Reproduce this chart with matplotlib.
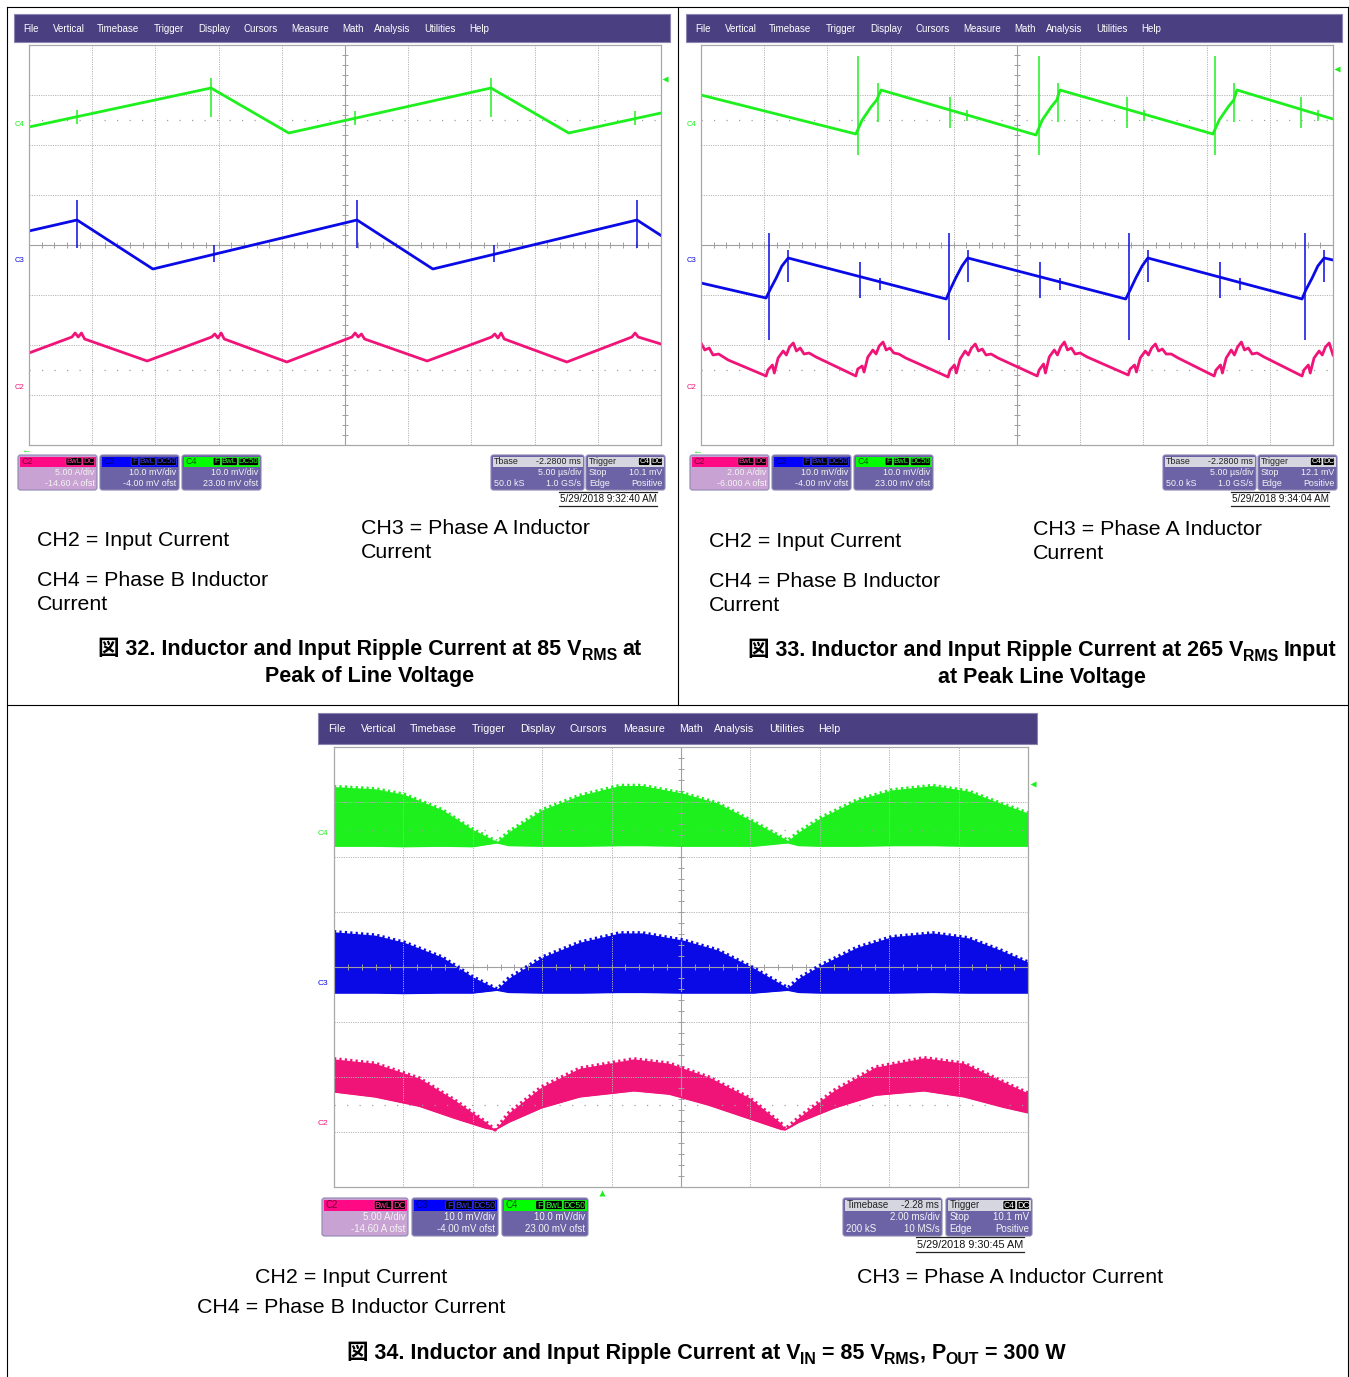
import matplotlib
matplotlib.use("Agg")
import matplotlib.pyplot as plt
from matplotlib.patches import Rectangle, FancyBboxPatch
import numpy as np

FAM = ['Liberation Sans', 'Noto Sans CJK JP', 'DejaVu Sans']
plt.rcParams['font.family'] = FAM

W, H = 1349, 1377

GREEN = '#1ef01e'
BLUE = '#0a0ae6'
PINK = '#f01478'
MENU = '#4a3f80'
GRID = '#b4b4b4'
BODY = '#6b63a6'

menu_items = ['File', 'Vertical', 'Timebase', 'Trigger', 'Display', 'Cursors',
              'Measure', 'Math', 'Analysis', 'Utilities', 'Help']

# ---------------- Fig 32: x, y in screen divisions ----------------
f32_c4_x = [0, 2.88, 4.11, 7.31, 8.54, 10]
f32_c4_y = [2.36, 3.14, 2.24, 3.14, 2.24, 2.64]
f32_c4_spk_x = [0.76, 2.88, 5.16, 7.31, 9.59]
f32_c4_spk_top = [2.70, 3.34, 2.68, 3.34, 2.68]
f32_c4_spk_bot = [2.42, 2.56, 2.40, 2.56, 2.40]

f32_c3_x = [0, 0.76, 1.96, 5.19, 6.39, 9.62, 10]
f32_c3_y = [0.28, 0.5, -0.48, 0.5, -0.48, 0.5, 0.19]
f32_c3_spk_x = [0.76, 2.92, 5.19, 7.35, 9.62]
f32_c3_spk_top = [0.9, 0.0, 0.9, 0.0, 0.9]
f32_c3_spk_bot = [-0.06, -0.34, -0.06, -0.34, -0.06]

f32_c2_x = [0, 0.68, 0.73, 0.78, 0.83, 0.88, 1.87, 2.89, 2.94, 2.99, 3.04, 3.09, 4.08,
            5.11, 5.16, 5.21, 5.26, 5.31, 6.30, 7.32, 7.37, 7.42, 7.47, 7.52, 8.51,
            9.54, 9.59, 9.64, 9.69, 10]
f32_c2_y = [-2.16, -1.84, -1.76, -1.84, -1.76, -1.88, -2.32, -1.84, -1.78, -1.86, -1.76, -1.88, -2.34,
            -1.84, -1.76, -1.84, -1.78, -1.88, -2.32, -1.84, -1.78, -1.86, -1.76, -1.88, -2.34,
            -1.84, -1.76, -1.84, -1.86, -1.98]

# ---------------- Fig 33 ----------------
f33_c4_x = [0, 2.45, 2.55, 2.69, 2.78, 2.85, 5.30, 5.40, 5.54, 5.63, 5.68,
            8.10, 8.20, 8.34, 8.43, 8.48, 10]
f33_c4_y = [3.0, 2.22, 2.5, 2.76, 2.9, 3.1, 2.2, 2.5, 2.76, 2.9, 3.1,
            2.22, 2.5, 2.76, 2.9, 3.1, 2.52]
f33_c4_spk_x = [2.48, 5.35, 8.13, 2.80, 5.65, 8.43, 3.94, 6.74, 9.49, 4.21, 7.01, 9.76]
f33_c4_spk_top = [3.78, 3.78, 3.78, 3.24, 3.24, 3.24, 2.96, 2.96, 2.96, 2.70, 2.70, 2.70]
f33_c4_spk_bot = [1.80, 1.80, 1.80, 2.46, 2.46, 2.46, 2.34, 2.34, 2.34, 2.48, 2.48, 2.48]

f33_c3_x = [0, 1.03, 1.09, 1.19, 1.28, 1.38, 3.88, 3.94, 4.03, 4.13, 4.22,
            6.72, 6.79, 6.88, 6.98, 7.07, 9.51, 9.57, 9.67, 9.76, 9.86, 10]
f33_c3_y = [-0.76, -1.06, -0.9, -0.66, -0.42, -0.26, -1.08, -0.9, -0.66, -0.42, -0.26,
            -1.08, -0.9, -0.66, -0.42, -0.26, -1.08, -0.9, -0.66, -0.42, -0.26, -0.3]
f33_c3_spk_x = [1.08, 3.92, 6.77, 9.56, 1.38, 4.22, 7.07, 9.86, 2.52, 5.36, 8.21, 2.83, 5.68, 8.53]
f33_c3_spk_top = [0.24, 0.24, 0.24, 0.24, -0.1, -0.1, -0.1, -0.1, -0.34, -0.34, -0.34, -0.66, -0.66, -0.66]
f33_c3_spk_bot = [-1.9, -1.9, -1.9, -1.9, -0.74, -0.74, -0.74, -0.74, -1.06, -1.06, -1.06, -0.9, -0.9, -0.9]

f33_c2_x = [0, 0.06, 0.13, 0.19, 0.28, 0.43,
            1.03, 1.06, 1.13, 1.16, 1.22, 1.30, 1.35, 1.40, 1.46, 1.51, 1.57, 1.63, 1.71, 1.82,
            2.45, 2.48, 2.55, 2.58, 2.64, 2.72, 2.77, 2.82, 2.88, 2.93, 2.99, 3.05, 3.13, 3.24,
            3.91, 3.94, 4.01, 4.04, 4.10, 4.18, 4.23, 4.28, 4.34, 4.39, 4.45, 4.51, 4.59, 4.70,
            5.32, 5.35, 5.42, 5.45, 5.51, 5.59, 5.64, 5.69, 5.75, 5.80, 5.86, 5.92, 6.00, 6.11,
            6.76, 6.79, 6.86, 6.89, 6.95, 7.03, 7.08, 7.13, 7.19, 7.24, 7.30, 7.36, 7.44, 7.55,
            8.12, 8.15, 8.22, 8.25, 8.31, 8.39, 8.44, 8.49, 8.55, 8.60, 8.66, 8.72, 8.80, 8.91,
            9.51, 9.54, 9.61, 9.64, 9.70, 9.78, 9.83, 9.88, 9.94, 10.0]
f33_c2_y = [-1.96, -2.1, -2.06, -2.2, -2.18, -2.3,
            -2.62, -2.5, -2.4, -2.56, -2.26, -2.12, -2.2, -2.04, -1.96, -2.12, -2.06, -2.18, -2.16, -2.24,
            -2.62, -2.48, -2.42, -2.54, -2.24, -2.1, -2.18, -2.02, -1.94, -2.1, -2.06, -2.16, -2.18, -2.26,
            -2.64, -2.5, -2.4, -2.56, -2.28, -2.12, -2.2, -2.06, -1.98, -2.12, -2.08, -2.2, -2.18, -2.26,
            -2.62, -2.5, -2.38, -2.56, -2.24, -2.1, -2.2, -2.04, -1.94, -2.1, -2.06, -2.18, -2.16, -2.24,
            -2.6, -2.48, -2.4, -2.54, -2.26, -2.12, -2.2, -2.06, -1.98, -2.12, -2.08, -2.18, -2.18, -2.26,
            -2.62, -2.5, -2.4, -2.56, -2.26, -2.1, -2.2, -2.04, -1.94, -2.1, -2.06, -2.18, -2.16, -2.24,
            -2.62, -2.5, -2.4, -2.56, -2.26, -2.12, -2.2, -2.04, -1.96, -2.2]

# ---------------- Fig 34: envelopes (upper / lower) ----------------
f34_x = [0, 0.59, 1.01, 1.56, 2.0, 2.35, 2.52, 3.0, 3.54, 4.12, 4.44, 5.03,
         5.53, 6.05, 6.54, 6.70, 7.02, 7.54, 8.04, 8.63, 9.14, 9.60, 10]
f34_c4_hi = [3.28, 3.24, 3.14, 2.86, 2.5, 2.28, 2.46, 2.86, 3.12, 3.3, 3.3, 3.16,
             2.98, 2.64, 2.3, 2.46, 2.72, 3.04, 3.22, 3.3, 3.2, 2.98, 2.8]
f34_c4_lo = [2.2, 2.2, 2.19, 2.2, 2.19, 2.26, 2.21, 2.2, 2.2, 2.21, 2.21, 2.2,
             2.2, 2.2, 2.26, 2.21, 2.2, 2.2, 2.21, 2.21, 2.2, 2.2, 2.2]
f34_c3_hi = [0.64, 0.58, 0.45, 0.18, -0.18, -0.4, -0.2, 0.18, 0.45, 0.62, 0.62, 0.49,
             0.31, -0.02, -0.38, -0.2, 0.04, 0.36, 0.55, 0.62, 0.53, 0.31, 0.09]
f34_c3_lo = [-0.47, -0.47, -0.48, -0.47, -0.47, -0.42, -0.46, -0.47, -0.47, -0.46, -0.46, -0.47,
             -0.47, -0.47, -0.42, -0.46, -0.47, -0.47, -0.47, -0.46, -0.47, -0.47, -0.47]
f34_c2_x = [0, 0.59, 1.23, 1.74, 2.19, 2.32, 2.52, 2.99, 3.54, 4.32, 4.83, 5.4,
            5.99, 6.44, 6.50, 6.70, 7.21, 7.80, 8.50, 9.08, 9.65, 10]
f34_c2_hi = [-1.67, -1.75, -2.02, -2.42, -2.82, -2.96, -2.65, -2.18, -1.84, -1.67, -1.75, -2.0,
             -2.38, -2.84, -2.95, -2.73, -2.24, -1.82, -1.65, -1.75, -2.09, -2.29]
f34_c2_lo = [-2.27, -2.36, -2.53, -2.75, -2.93, -2.96, -2.82, -2.56, -2.36, -2.25, -2.31, -2.51,
             -2.76, -2.95, -2.96, -2.82, -2.56, -2.33, -2.25, -2.36, -2.55, -2.65]

# scope settings
f32_chan = [('5.00 A/div', '-14.60 A ofst'), ('10.0 mV/div', '-4.00 mV ofst'), ('10.0 mV/div', '23.00 mV ofst')]
f33_chan = [('2.00 A/div', '-6.000 A ofst'), ('10.0 mV/div', '-4.00 mV ofst'), ('10.0 mV/div', '23.00 mV ofst')]
f34_chan = [('5.00 A/div', '-14.60 A ofst'), ('10.0 mV/div', '-4.00 mV ofst'), ('10.0 mV/div', '23.00 mV ofst')]
f32_tb = ('Tbase', '-2.2800 ms', '5.00 µs/div', '50.0 kS', '1.0 GS/s')
f33_tb = ('Tbase', '-2.2800 ms', '5.00 µs/div', '50.0 kS', '1.0 GS/s')
f34_tb = ('Timebase', '-2.28 ms', '2.00 ms/div', '200 kS', '10 MS/s')
f32_trig, f33_trig, f34_trig = '10.1 mV', '12.1 mV', '10.1 mV'
f32_date, f33_date, f34_date = '5/29/2018 9:32:40 AM', '5/29/2018 9:34:04 AM', '5/29/2018 9:30:45 AM'

fig = plt.figure(figsize=(W / 100, H / 100), dpi=100)
page = fig.add_axes([0, 0, 1, 1])
page.set_xlim(0, W)
page.set_ylim(H, 0)
page.axis('off')

# document frame
page.plot([7, 7], [7, H], color='black', lw=0.8)
page.plot([7, W - 1], [7, 7], color='black', lw=0.8)
page.plot([W - 1.5, W - 1.5], [7, H], color='black', lw=0.8)
page.plot([7, W], [705, 705], color='black', lw=0.8)
page.plot([678, 678], [7, 705], color='black', lw=0.8)

menu_off = [9, 39, 83, 140, 184, 229, 277, 328, 360, 410, 455]


def info_box(x, y, w, h, s, head_fc, body_fc, name, name_col, badges, badge_col,
             head_right, rows, body_col='#f4f4f4'):
    hh = 11 * s
    page.add_patch(FancyBboxPatch((x, y), w, h, boxstyle='round,pad=0,rounding_size=2.5',
                                  fc=body_fc, ec='#8d86b4', lw=0.8))
    page.add_patch(Rectangle((x + 1.5, y + 1.5), w - 3, hh - 1, fc=head_fc, ec='none'))
    page.text(x + 3 * s, y + 1 + hh / 2, name, color=name_col, fontsize=6.4 * s, va='center')
    bx = x + w - 2.5
    for b in reversed(badges):
        bw = (4.3 * len(b) + 3) * s
        page.add_patch(FancyBboxPatch((bx - bw, y + 2.5), bw, hh - 3, boxstyle='round,pad=0,rounding_size=1.5',
                                      fc='black', ec=badge_col, lw=0.5))
        page.text(bx - bw / 2, y + 1 + hh / 2, b, color=badge_col, fontsize=5.6 * s,
                  ha='center', va='center')
        bx -= bw + 1
    if head_right:
        page.text(x + w - 3 * s, y + 1 + hh / 2, head_right, color='#222222', fontsize=6.4 * s,
                  ha='right', va='center')
    for k, (lt, rt) in enumerate(rows):
        yy = y + hh + (6.5 + 11 * k) * s
        if lt:
            page.text(x + 3 * s, yy, lt, color=body_col, fontsize=6.4 * s, va='center')
        page.text(x + w - 2.5 * s, yy, rt, color=body_col, fontsize=6.4 * s, ha='right', va='center')


def draw_scope(geo, chan, tb, trig, date):
    s = geo['s']
    wx0, wx1, wy0 = geo['win']
    page.add_patch(Rectangle((wx0, wy0), wx1 - wx0, 28 * s, fc=MENU, ec='#8a84b0', lw=0.8))
    for item, off in zip(menu_items, menu_off):
        page.text(wx0 + off * s, wy0 + 14.5 * s, item, color='white', fontsize=7 * s, va='center')

    gx, gy, gw, gh = geo['grid']
    ax = fig.add_axes([gx / W, 1 - (gy + gh) / H, gw / W, gh / H])
    ax.set_xlim(0, 10)
    ax.set_ylim(-4, 4)
    ax.set_xticks([])
    ax.set_yticks([])
    for sp in ax.spines.values():
        sp.set_color('#a8a8a8')
        sp.set_linewidth(0.9)
    for i in range(1, 10):
        if i != 5:
            ax.axvline(i, color=GRID, lw=0.7, ls=(0, (1.2, 1.2)))
    for j in range(-3, 4):
        if j != 0:
            ax.axhline(j, color=GRID, lw=0.7, ls=(0, (1.2, 1.2)))
    ax.axvline(5, color='#a0a0a0', lw=0.8)
    ax.axhline(0, color='#a0a0a0', lw=0.8)
    ax.vlines(np.arange(0.2, 10, 0.2), -0.06, 0.06, color='#a0a0a0', lw=0.7)
    ax.hlines(np.arange(-3.8, 4, 0.2), 4.95, 5.05, color='#a0a0a0', lw=0.7)
    for lev in (2.5, -2.5):
        ax.axhline(lev, color='#a0a0a0', lw=0.9, ls=(0, (1, 9)))
    for lab, lev, col in (('C4', 2.42, GREEN), ('C3', -0.3, BLUE), ('C2', -2.85, PINK)):
        ax.text(-0.08, lev, lab, color=col, fontsize=5.5 * s, ha='right', va='center', clip_on=False)
    ax.plot(10.07, geo['trig_lvl'], marker='<', ms=4.5 * s, color=GREEN, mec='none', clip_on=False)

    by, bh = geo['box_y'], geo['box_h']
    heads = [('#ff0a84', '#7a0038', '#ff3a9a', ['BwL', 'DC'], '#c8a2d2'),
             ('#0000ff', '#000070', '#3a3aff', ['F', 'BwL', 'DC50'], BODY),
             ('#00ff00', '#005a00', '#30ff30', ['F', 'BwL', 'DC50'], BODY)]
    for k, (bx, (l1, l2)) in enumerate(zip(geo['chan_x'], chan)):
        hf, nc, bc, bd, body = heads[k]
        info_box(bx, by, geo['chan_w'], bh, s, hf, body, 'C%d' % (k + 2), nc, bd, bc, None,
                 [('', l1), ('', l2)])
    tx, tw = geo['tb']
    info_box(tx, by, tw, bh, s, '#d6d6e0', BODY, tb[0], '#222222', [], None, tb[1],
             [('', tb[2]), (tb[3], tb[4])])
    rx, rw = geo['trig']
    info_box(rx, by, rw, bh, s, '#d6d6e0', BODY, 'Trigger', '#222222', ['C4', 'DC'], 'white', None,
             [('Stop', trig), ('Edge', 'Positive')])
    dc, dy = geo['date']
    page.text(dc, dy, date, color='#111111', fontsize=7.1 * s, ha='center', va='center')
    half = 49 * s
    page.plot([dc - half, dc + half], [dy - 7 * s, dy - 7 * s], color='#222222', lw=0.9)
    page.plot([dc - half, dc + half], [dy + 6.5 * s, dy + 6.5 * s], color='#222222', lw=0.9)
    return ax


def traces(ax, line_sets, spike_sets):
    for xs, ys, col in line_sets:
        ax.plot(xs, ys, color=col, lw=2.0, solid_joinstyle='round')
    for xs, top, bot, col in spike_sets:
        ax.vlines(xs, bot, top, color=col, lw=1.1)


geo32 = dict(s=1.0, win=(14, 670, 14), grid=(29, 45, 632, 400), trig_lvl=3.32,
             box_y=455, box_h=35, chan_x=[18, 100, 182], chan_w=79, tb=(491, 93), trig=(586, 79),
             date=(608, 499))
geo33 = dict(s=1.0, win=(686, 1342, 14), grid=(701, 45, 632, 400), trig_lvl=3.52,
             box_y=455, box_h=35, chan_x=[690, 772, 854], chan_w=79, tb=(1163, 93), trig=(1258, 79),
             date=(1280, 499))
geo34 = dict(s=1.1, win=(318, 1037, 713), grid=(334, 747, 694, 440), trig_lvl=3.33,
             box_y=1198, box_h=38, chan_x=[322, 412, 502], chan_w=86, tb=(843, 99), trig=(946, 86),
             date=(970, 1245))

ax32 = draw_scope(geo32, f32_chan, f32_tb, f32_trig, f32_date)
traces(ax32, [(f32_c4_x, f32_c4_y, GREEN), (f32_c3_x, f32_c3_y, BLUE), (f32_c2_x, f32_c2_y, PINK)],
       [(f32_c4_spk_x, f32_c4_spk_top, f32_c4_spk_bot, GREEN),
        (f32_c3_spk_x, f32_c3_spk_top, f32_c3_spk_bot, BLUE)])
page.text(26, 450, '←', color=GREEN, fontsize=7, ha='center', va='center')

ax33 = draw_scope(geo33, f33_chan, f33_tb, f33_trig, f33_date)
traces(ax33, [(f33_c4_x, f33_c4_y, GREEN), (f33_c3_x, f33_c3_y, BLUE), (f33_c2_x, f33_c2_y, PINK)],
       [(f33_c4_spk_x, f33_c4_spk_top, f33_c4_spk_bot, GREEN),
        (f33_c3_spk_x, f33_c3_spk_top, f33_c3_spk_bot, BLUE)])
page.text(697, 451, '←', color=GREEN, fontsize=7, ha='center', va='center')

ax34 = draw_scope(geo34, f34_chan, f34_tb, f34_trig, f34_date)
for xs, hi, lo, col in ((f34_x, f34_c4_hi, f34_c4_lo, GREEN), (f34_x, f34_c3_hi, f34_c3_lo, BLUE),
                        (f34_c2_x, f34_c2_hi, f34_c2_lo, PINK)):
    ax34.fill_between(xs, lo, hi, color=col, lw=0)
    # ragged upper edge of the switching-ripple band
    ax34.plot(xs, hi, color=col, lw=2.6, ls=(0, (0.6, 0.9)), solid_joinstyle='round')
    ax34.plot(xs, lo, color=col, lw=1.2)
ax34.plot(3.86, -4.1, marker='^', ms=5, color=GREEN, mec='none', clip_on=False)

# ---------------- document text ----------------
BODY_FS = 15.4
CAP_FS = 15.5


def label(x, yb, txt):
    page.text(x, yb, txt, fontsize=BODY_FS, va='baseline', color='black')


for dx, dy in ((0, 0), (672, 1)):
    label(361 + dx, 534 + dy, 'CH3 = Phase A Inductor')
    label(361 + dx, 558 + dy, 'Current')
    label(37 + dx, 546 + dy, 'CH2 = Input Current')
    label(37 + dx, 586 + dy, 'CH4 = Phase B Inductor')
    label(37 + dx, 610 + dy, 'Current')

label(255, 1283, 'CH2 = Input Current')
label(197, 1313, 'CH4 = Phase B Inductor Current')
label(857, 1283, 'CH3 = Phase A Inductor Current')

renderer = fig.canvas.get_renderer()


def rich_line(xc, yb, pieces):
    objs = []
    for txt, kind, gap in pieces:
        fs = CAP_FS if kind == 'n' else CAP_FS * 0.74
        t = page.text(0, yb + (5 if kind == 's' else 0), txt, fontsize=fs, fontweight='bold',
                      va='baseline', ha='left', color='black')
        objs.append((t, gap))
    widths = [t.get_window_extent(renderer).width + gap for t, gap in objs]
    x = xc - sum(widths) / 2
    for (t, gap), w in zip(objs, widths):
        t.set_x(x + gap)
        x += w


SP = 5.5
rich_line(370, 655, [('図 32. Inductor and Input Ripple Current at 85 V', 'n', 0), ('RMS', 's', 0), ('at', 'n', SP)])
rich_line(370, 682, [('Peak of Line Voltage', 'n', 0)])
rich_line(1042, 656, [('図 33. Inductor and Input Ripple Current at 265 V', 'n', 0), ('RMS', 's', 0), ('Input', 'n', SP)])
rich_line(1042, 683, [('at Peak Line Voltage', 'n', 0)])
rich_line(706, 1359, [('図 34. Inductor and Input Ripple Current at V', 'n', 0), ('IN', 's', 0),
                      ('= 85 V', 'n', SP), ('RMS', 's', 0), (', P', 'n', 0), ('OUT', 's', 0),
                      ('= 300 W', 'n', SP)])

fig.savefig('out.png', dpi=100)
